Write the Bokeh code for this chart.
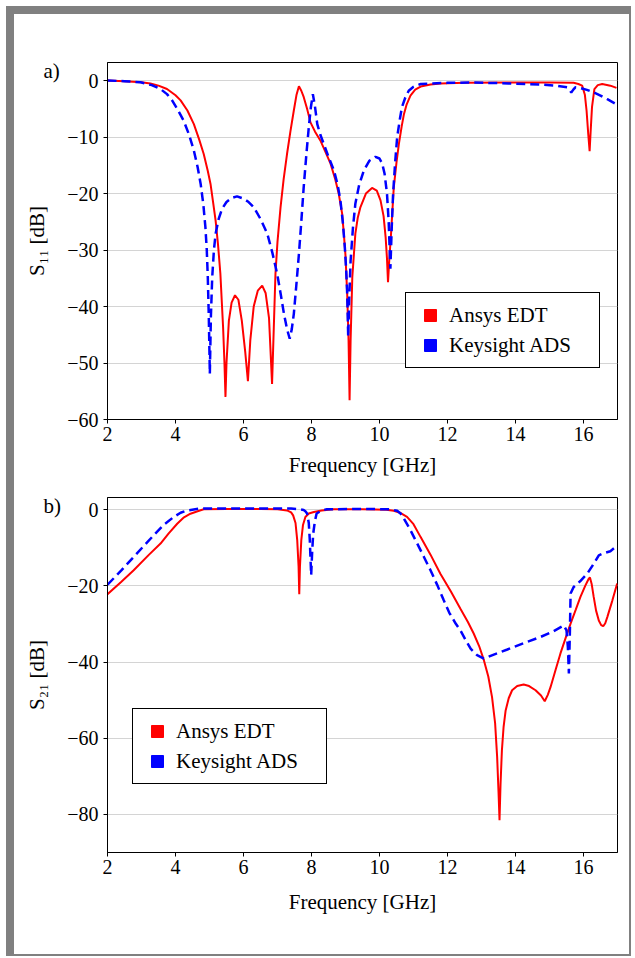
from bokeh.plotting import figure
from bokeh.models import Legend, LegendItem, FixedTicker
from bokeh.layouts import column
from bokeh.embed import file_html
from bokeh.resources import INLINE

FONT = "Liberation Serif"

# ---------------- data: S11 ----------------
s11_ansys_f = [2.0, 2.5, 3.0, 3.26, 3.5, 3.75, 4.0, 4.15, 4.35, 4.54, 4.7, 4.83, 4.95, 5.03, 5.1,
               5.18, 5.25, 5.32, 5.4, 5.44, 5.47, 5.5, 5.57, 5.65, 5.75, 5.85, 5.95, 6.05, 6.13,
               6.2, 6.3, 6.42, 6.55, 6.65, 6.75, 6.84, 6.9, 6.94, 7.0, 7.09, 7.18, 7.28, 7.38,
               7.48, 7.56, 7.63, 7.7, 7.77, 7.87, 7.97, 8.1, 8.26, 8.4, 8.56, 8.7, 8.8, 8.9,
               8.95, 9.0, 9.05, 9.09, 9.12, 9.15, 9.2, 9.29, 9.36, 9.44, 9.6, 9.78, 9.92, 10.03,
               10.12, 10.18, 10.22, 10.25, 10.29, 10.34, 10.42, 10.5, 10.57, 10.65, 10.72, 10.8,
               10.91, 11.05, 11.21, 11.5, 11.79, 12.5, 13.76, 15.0, 15.71, 15.85, 15.96, 16.04,
               16.09, 16.14, 16.18, 16.21, 16.25, 16.32, 16.42, 16.55, 16.79, 16.97]
s11_ansys_db = [0, -0.1, -0.3, -0.5, -0.9, -1.5, -2.6, -3.5, -5.3, -7.7, -10.5, -13, -16, -18.3, -21.3,
                -24.8, -29, -34.2, -43.7, -50, -56, -50, -42.5, -39.3, -38, -38.8, -42.5, -48, -53.2,
                -46, -40, -37.2, -36.3, -37.6, -42, -53.7, -42, -34.2, -28.5, -22.4, -17.5, -13, -9,
                -5.3, -2.5, -1.0, -1.8, -2.9, -5.0, -7.4, -9.0, -10.6, -12.5, -14.7, -17.5, -20, -23.5,
                -27, -31, -37.8, -46, -56.6, -46, -34.8, -27.1, -24.3, -22.4, -20, -19, -19.5, -21.2,
                -24, -27.7, -31.5, -35.7, -31.5, -27.1, -18.9, -14.5, -11.2, -8.2, -5.9, -4.2,
                -2.65, -1.6, -1.06, -0.7, -0.5, -0.4, -0.35, -0.35, -0.4, -0.6, -0.9, -2.5,
                -5.3, -9.5, -12.5, -9, -4.7, -1.5, -0.8, -0.6, -0.9, -1.3]

s11_keysight_f = [2.0, 2.5, 2.97, 3.3, 3.56, 3.75, 3.9, 4.05, 4.24, 4.4, 4.54, 4.65, 4.74, 4.82, 4.88,
                  4.92, 4.95, 4.98, 5.01, 5.04, 5.08, 5.13, 5.18, 5.27, 5.37, 5.5, 5.65, 5.81, 6.0,
                  6.15, 6.3, 6.5, 6.7, 6.85, 6.99, 7.1, 7.19, 7.28, 7.36, 7.42, 7.48, 7.55, 7.63,
                  7.7, 7.77, 7.85, 7.92, 7.98, 8.04, 8.1, 8.17, 8.26, 8.36, 8.5, 8.66, 8.77, 8.85,
                  8.92, 8.98, 9.02, 9.05, 9.08, 9.11, 9.15, 9.22, 9.29, 9.4, 9.54, 9.7, 9.88, 10.0,
                  10.08, 10.15, 10.22, 10.27, 10.32, 10.36, 10.4, 10.46, 10.52, 10.6, 10.66, 10.76,
                  10.86, 11.0, 11.21, 12.0, 12.77, 13.8, 14.74, 15.2, 15.52, 15.58, 15.64, 15.7,
                  15.76, 15.9, 16.1, 16.3, 16.5, 16.7, 16.94]
s11_keysight_db = [0, -0.1, -0.3, -0.8, -1.5, -2.4, -3.5, -5, -7.1, -9.6, -12.4, -15.3, -18.3, -22, -26,
                   -30, -34.8, -42, -51.9, -42, -34.8, -30, -27.1, -24.5, -22.7, -21.5, -20.8, -20.5, -20.9,
                   -21.5, -22.4, -24.5, -27.1, -30.5, -34.2, -38, -41.3, -44, -45.7, -44, -41.3, -36.5, -30.7,
                   -25, -18.9, -13, -8.3, -4.8, -2.4, -4.5, -7.7, -9.6, -11.2, -13.5, -15.9, -18.5, -21.2,
                   -25, -29.5, -33.5, -37.8, -45.4, -38.5, -31.9, -26, -21.8, -18.5, -15.9, -14.2, -13.5, -13.8,
                   -14.7, -16.5, -20, -25, -33.3, -26, -20, -14.5, -10, -6.8, -4.7, -3,
                   -1.8, -1.1, -0.6, -0.4, -0.35, -0.5, -0.7, -0.9, -1.2, -1.6, -2.1, -1.6,
                   -1.2, -1.3, -1.65, -2.1, -2.65, -3.3, -4.1]

# ---------------- data: S21 ----------------
s21_ansys_f = [2.0, 2.4, 2.77, 3.2, 3.56, 3.8, 4.05, 4.25, 4.44, 4.65, 4.83, 5.5, 6.5, 7.0, 7.28,
               7.4, 7.46, 7.53, 7.58, 7.62, 7.64, 7.66, 7.7, 7.75, 7.82, 7.92, 8.07, 8.3, 8.65,
               9.5, 10.2, 10.42, 10.6, 10.81, 11.0, 11.21, 11.5, 11.79, 12.1, 12.38, 12.6, 12.77,
               12.93, 13.07, 13.2, 13.31, 13.4, 13.46, 13.5, 13.53, 13.56, 13.6, 13.65, 13.71, 13.8,
               13.9, 14.05, 14.24, 14.4, 14.59, 14.75, 14.86, 14.95, 15.03, 15.18, 15.32, 15.47,
               15.62, 15.77, 15.91, 16.05, 16.15, 16.19, 16.24, 16.3, 16.37, 16.45, 16.52, 16.58,
               16.64, 16.7, 16.85, 16.99]
s21_ansys_db = [-22.2, -19, -15.9, -12, -8.9, -6.2, -3.7, -2, -1.05, -0.4, 0.1, 0.2, 0.2, 0.1, -0.2,
                -0.7, -1.5, -3.5, -8, -15, -22.2, -15, -8, -4, -1.9, -1.0, -0.6, -0.2, 0.1,
                0.1, 0, -0.3, -0.8, -1.9, -3.8, -7.2, -11.8, -16.8, -21.5, -26, -29.5, -32.5,
                -35.8, -39.5, -43.8, -49.2, -56, -64.9, -74, -81.5, -72, -63.2, -57, -52.7, -49.5,
                -47.4, -46.3, -45.9, -46.3, -47.4, -48.8, -50.3, -48.6, -46.6, -42, -37.8, -33.8,
                -29.9, -26.3, -22.9, -20, -18.2, -17.8, -19.5, -22.9, -26.5, -29.1, -30.3, -30.6,
                -29.8, -28.2, -23.8, -19.4]

s21_keysight_f = [2.0, 2.4, 2.77, 3.1, 3.36, 3.65, 3.95, 4.15, 4.34, 4.73, 5.5, 6.5, 7.4, 7.65, 7.77,
                  7.82, 7.87, 7.92, 7.95, 7.99, 8.02, 8.05, 8.1, 8.15, 8.3, 8.45, 9.5, 10.3, 10.52,
                  10.62, 10.72, 10.9, 11.11, 11.3, 11.5, 11.7, 11.89, 12.05, 12.24, 12.38, 12.55,
                  12.68, 12.87, 13.07, 13.4, 13.76, 14.25, 14.74, 15.1, 15.42, 15.5, 15.54, 15.57,
                  15.6, 15.62, 15.71, 15.9, 16.11, 16.3, 16.45, 16.6, 16.79, 16.97]
s21_keysight_db = [-19.7, -16, -12.4, -9.2, -6.7, -4.0, -1.9, -0.8, -0.2, 0.3, 0.3, 0.3, 0.3, 0.1, -0.1,
                   -0.4, -1, -3.5, -8, -17.2, -11, -6.3, -3, -1, -0.2, 0.1, 0.2, 0.1, -0.3,
                   -1, -2.4, -5.2, -8.9, -12.3, -15.9, -19.8, -23.8, -27, -29.9, -31.7, -34.5,
                   -36.5, -38.2, -39.1, -37.9, -36.7, -35, -33.4, -32, -30.4, -31.7, -36, -43,
                   -32, -22, -20.3, -18.8, -16.8, -14.2, -12, -11.4, -10.9, -9.6]

x_ticks = [2, 4, 6, 8, 10, 12, 14, 16]
s11_ticks = [0, -10, -20, -30, -40, -50, -60]
s21_ticks = [0, -20, -40, -60, -80]
series_names = ["Ansys EDT", "Keysight ADS"]
series_colors = ["#ff0000", "#0000ff"]
panel_tags = ["a)", "b)"]


def make_fig(frame_h, y_lo, y_hi, y_ticks, border_top, border_bottom, ylabel, tag, tag_standoff,
             xlabel_standoff):
    p = figure(frame_width=510, frame_height=frame_h, x_range=(2, 17), y_range=(y_lo, y_hi),
               toolbar_location=None, output_backend="svg",
               min_border_left=93, min_border_right=12,
               min_border_top=border_top, min_border_bottom=border_bottom)
    p.background_fill_color = "white"
    p.border_fill_color = "white"
    p.outline_line_color = "black"
    p.outline_line_alpha = 1
    p.outline_line_width = 1
    p.xgrid.visible = False
    p.ygrid.grid_line_color = "#d4d4d4"
    p.ygrid.grid_line_width = 1
    p.xaxis.ticker = FixedTicker(ticks=x_ticks)
    p.yaxis.ticker = FixedTicker(ticks=y_ticks)
    p.yaxis.major_label_overrides = {t: ("\u2212" + str(abs(t)) if t < 0 else str(t)) for t in y_ticks}
    for ax in (p.xaxis[0], p.yaxis[0]):
        ax.axis_line_color = "black"
        ax.major_tick_line_color = "black"
        ax.major_tick_out = 4
        ax.major_tick_in = 0
        ax.minor_tick_line_color = None
        ax.major_label_text_font = FONT
        ax.major_label_text_font_size = "20px"
        ax.major_label_text_color = "black"
        ax.axis_label_text_font = FONT
        ax.axis_label_text_font_size = "21px"
        ax.axis_label_text_font_style = "normal"
        ax.axis_label_text_color = "black"
    p.xaxis.axis_label = "Frequency [GHz]"
    p.xaxis.major_label_standoff = 3
    p.xaxis.axis_label_standoff = xlabel_standoff
    p.yaxis.axis_label = ylabel
    p.yaxis.major_label_standoff = 5
    p.yaxis.axis_label_standoff = 15
    # panel tag "a)" / "b)" drawn as the figure title, pushed left of the frame
    p.title.text = tag
    p.title.align = "left"
    p.title.offset = -64
    p.title.vertical_align = "bottom"
    p.title.standoff = tag_standoff
    p.title.text_font = FONT
    p.title.text_font_size = "21px"
    p.title.text_font_style = "normal"
    p.title.text_color = "black"
    return p


def add_legend(p, loc):
    items = []
    for name, col in zip(series_names, series_colors):
        # legend-only proxy (NaN point is never drawn inside the plot)
        r = p.scatter(x=[float("nan")], y=[float("nan")], marker="square", size=12,
                      fill_color=col, line_color=col)
        items.append(LegendItem(label=name, renderers=[r]))
    lg = Legend(items=items, location=loc, glyph_width=34, glyph_height=30, label_standoff=2,
                label_width=143, label_height=30, padding=7, spacing=0, margin=0,
                label_text_font=FONT, label_text_font_size="21px", label_text_color="black",
                border_line_color="black", border_line_width=1, border_line_alpha=1,
                background_fill_color="white", background_fill_alpha=1)
    p.add_layout(lg)


# ---------------- panel a ----------------
p1 = make_fig(357, -60, 3.2, s11_ticks, 48, 64, "S\u2081\u2081 [dB]", panel_tags[0], -41, 9)
p1.line(s11_ansys_f, s11_ansys_db, line_color=series_colors[0], line_width=2)
p1.line(s11_keysight_f, s11_keysight_db, line_color=series_colors[1], line_width=2.5, line_dash="9 5")
add_legend(p1, (298, 51))

# ---------------- panel b ----------------
p2 = make_fig(355, -90, 3.2, s21_ticks, 14, 102, "S\u2082\u2081 [dB]", panel_tags[1], -40, 13)
p2.line(s21_ansys_f, s21_ansys_db, line_color=series_colors[0], line_width=2)
p2.line(s21_keysight_f, s21_keysight_db, line_color=series_colors[1], line_width=2.5, line_dash="9 5")
add_legend(p2, (25, 68))

GRAY = "#808080"
inner = column(p1, p2, spacing=0, margin=(8, 2, 2, 8), styles={"background-color": "white"})
layout = column(inner, spacing=0, margin=(6, 0, 0, 6), styles={"background-color": GRAY})

open("out.html", "w").write(file_html(layout, INLINE))
